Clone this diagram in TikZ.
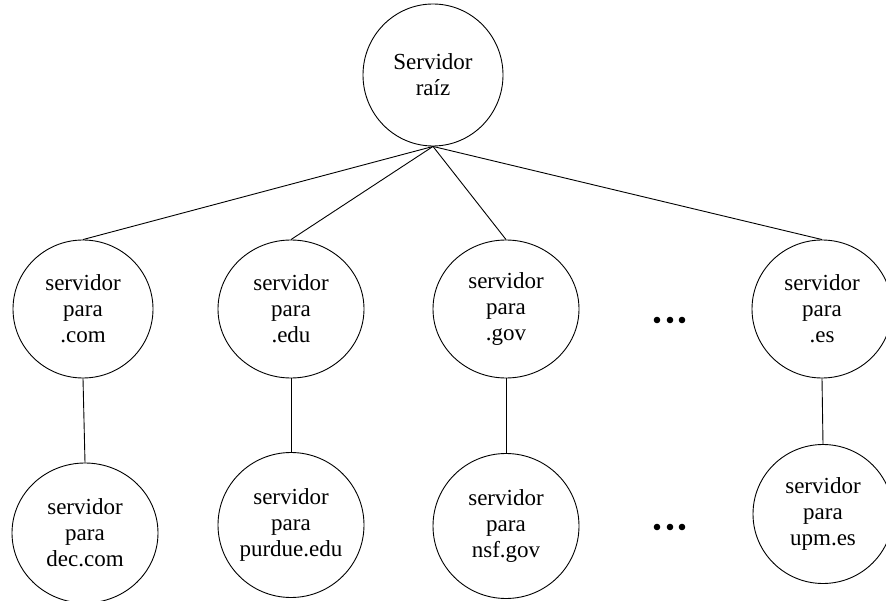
\documentclass[tikz,border=0pt]{standalone}
\usepackage{fontspec}
\setmainfont{Liberation Serif}
\usetikzlibrary{shapes.geometric}

\tikzset{
  server/.style={draw, ellipse, line width=0.9pt, inner sep=0pt,
    align=center, font=\fontsize{23}{26}\selectfont},
  link/.style={line width=0.9pt},
  dot/.style={fill=black}
}

\begin{document}
\begin{tikzpicture}[x=1pt, y=-1pt]
  \useasboundingbox (0,0) rectangle (886,601);
  \clip (0,0) rectangle (886,601);

  % root of the tree
  \node[server, minimum width=140pt, minimum height=142pt] (root) at (433,75) {Servidor\\raíz};

  % top-level domain servers
  \node[server, minimum width=140pt, minimum height=138pt] (com) at (83,309) {servidor\\para\\.com};
  \node[server, minimum width=146pt, minimum height=138pt] (edu) at (291,309) {servidor\\para\\.edu};
  \node[server, minimum width=146pt, minimum height=138pt] (gov) at (506,309) {servidor\\para\\.gov};
  \node[server, minimum width=140pt, minimum height=138pt] (es)  at (822,309) {servidor\\para\\.es};

  % second-level domain servers
  \node[server, minimum width=146pt, minimum height=140pt] (dec)    at (85,533)  {servidor\\para\\dec.com};
  \node[server, minimum width=146pt, minimum height=145pt] (purdue) at (291,525) {servidor\\para\\purdue.edu};
  \node[server, minimum width=146pt, minimum height=145pt] (nsf)    at (506,526) {servidor\\para\\nsf.gov};
  \node[server, minimum width=140pt, minimum height=139pt] (upm)    at (823,514) {servidor\\para\\upm.es};

  % connections
  \foreach \c in {com,edu,gov,es} \draw[link] (root.south) -- (\c.north);
  \draw[link] (com.south) -- (dec.north);
  \draw[link] (edu.south) -- (purdue.north);
  \draw[link] (gov.south) -- (nsf.north);
  \draw[link] (es.south)  -- (upm.north);

  % ellipses between the columns
  \foreach \x in {657,670,682} {
    \fill[dot] (\x,320) circle (3.3pt);
    \fill[dot] (\x,527) circle (3.3pt);
  }
\end{tikzpicture}
\end{document}
